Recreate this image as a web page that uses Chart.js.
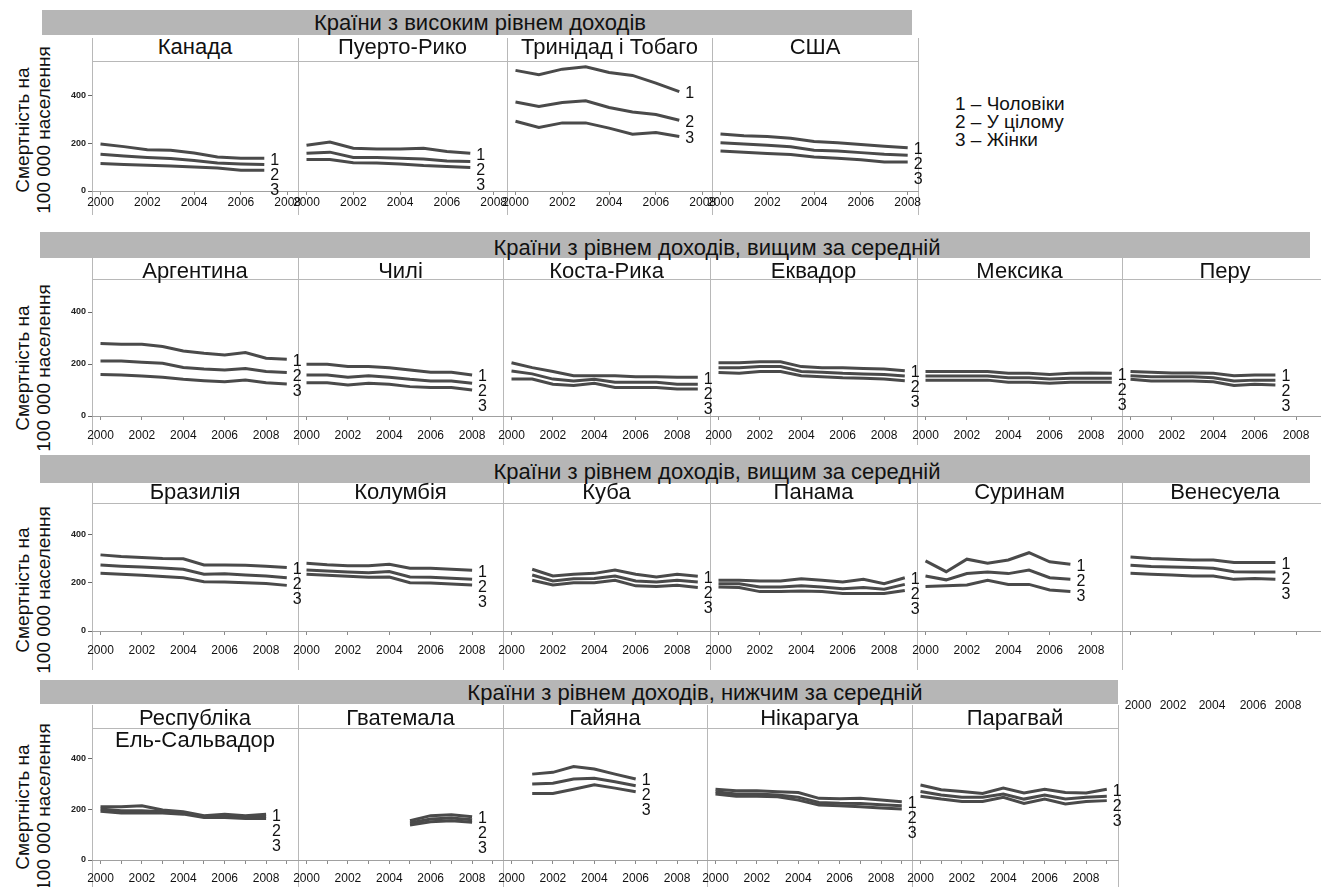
<!DOCTYPE html>
<html lang="uk">
<head>
<meta charset="utf-8">
<title>Смертність на 100 000 населення</title>
<script src="https://cdn.jsdelivr.net/npm/chart.js@4.4.1/dist/chart.umd.min.js"></script>
<style>
  html, body { margin: 0; padding: 0; background: #fff; }
  body {
    position: relative; width: 1321px; height: 887px; overflow: hidden;
    font-family: "Liberation Sans", Arial, sans-serif; color: #111;
  }
  .band { position: absolute; background: #b6b6b6; }
  .band-text { position: absolute; font-size: 22px; line-height: 22px; white-space: nowrap; transform: translateX(-50%); }
  .title { position: absolute; font-size: 22px; line-height: 22px; text-align: center; white-space: pre-line; }
  .vline { position: absolute; width: 1px; background: #b8b8b8; }
  .hline { position: absolute; height: 1px; background: #b8b8b8; }
  .ytitle {
    position: absolute; width: 190px; font-size: 19px; line-height: 21px; text-align: center;
    white-space: nowrap; transform: translate(-50%, -50%) rotate(-90deg);
  }
  .legend { position: absolute; font-size: 19px; line-height: 18px; white-space: nowrap; }
  .stray { position: absolute; font-size: 12px; line-height: 12px; transform: translateX(-50%); }
  canvas { position: absolute; }
</style>
</head>
<body>
<script>
// series: 1 - men, 2 - overall, 3 - women
const seriesMarks = ["1", "2", "3"];
const legendLines = ["1 – Чоловіки", "2 – У цілому", "3 – Жінки"];
const yTitleLines = ["Смертність на", "100 000 населення"];
const rowTitles = [
  "Країни з високим рівнем доходів",
  "Країни з рівнем доходів, вищим за середній",
  "Країни з рівнем доходів, вищим за середній",
  "Країни з рівнем доходів, нижчим за середній"
];
const yTicks = [0, 200, 400];
const xTicks = [2000, 2002, 2004, 2006, 2008];
const xTicksDense = [2000, 2001, 2002, 2003, 2004, 2005, 2006, 2007, 2008, 2009];
const strayYears = ["2000", "2002", "2004", "2006", "2008"];

// each country: [men, overall, women], yearly values from its first year
const canada = [
  [196, 185, 172, 170, 158, 142, 137, 137],
  [153, 146, 140, 135, 127, 117, 113, 110],
  [115, 111, 107, 104, 100, 96, 87, 86]
];
const puertoRico = [
  [191, 204, 178, 175, 175, 178, 165, 157],
  [157, 162, 140, 140, 137, 133, 125, 123],
  [131, 131, 118, 117, 113, 106, 102, 98]
];
const trinidad = [
  [503, 485, 508, 518, 494, 482, 450, 414],
  [371, 352, 369, 376, 348, 329, 319, 295],
  [291, 265, 284, 284, 262, 237, 244, 227]
];
const usa = [
  [238, 230, 227, 220, 206, 201, 194, 187, 180],
  [201, 196, 191, 184, 170, 167, 160, 153, 149],
  [167, 162, 156, 152, 142, 137, 130, 121, 121]
];
const argentina = [
  [279, 276, 276, 267, 250, 241, 235, 244, 222, 218],
  [212, 212, 207, 203, 187, 181, 177, 183, 171, 167],
  [160, 158, 154, 149, 141, 136, 132, 138, 128, 123]
];
const chile = [
  [199, 199, 190, 190, 186, 177, 168, 168, 158],
  [158, 158, 149, 155, 149, 141, 135, 135, 126],
  [128, 128, 119, 126, 122, 113, 110, 110, 100]
];
const costaRica = [
  [205, 186, 171, 155, 155, 155, 151, 151, 149, 149],
  [173, 162, 142, 135, 141, 130, 130, 130, 122, 122],
  [142, 142, 122, 117, 126, 110, 110, 110, 104, 104]
];
const ecuador = [
  [205, 205, 209, 209, 190, 186, 186, 183, 181, 174],
  [186, 186, 190, 190, 171, 168, 164, 162, 160, 154],
  [167, 164, 171, 171, 155, 151, 147, 145, 142, 136]
];
const mexico = [
  [171, 171, 171, 171, 164, 164, 160, 164, 165, 164],
  [154, 154, 154, 154, 147, 147, 142, 145, 145, 145],
  [138, 138, 138, 138, 130, 130, 126, 130, 130, 130]
];
const peru = [
  [171, 168, 165, 165, 164, 155, 158, 158],
  [155, 151, 151, 151, 147, 135, 138, 138],
  [141, 135, 135, 135, 132, 117, 122, 119]
];
const brazil = [
  [317, 310, 306, 302, 301, 275, 275, 274, 270, 264],
  [275, 270, 266, 262, 257, 236, 238, 233, 229, 222],
  [240, 236, 232, 227, 222, 205, 204, 201, 198, 190]
];
const colombia = [
  [282, 276, 272, 272, 278, 261, 261, 257, 253],
  [254, 250, 246, 243, 248, 225, 224, 220, 215],
  [236, 232, 228, 224, 225, 201, 200, 196, 192]
];
const cuba = [
  [257, 229, 236, 240, 254, 236, 225, 236, 228],
  [233, 208, 218, 219, 229, 208, 204, 211, 204],
  [211, 192, 201, 201, 211, 188, 185, 190, 181]
];
const panama = [
  [211, 211, 208, 208, 218, 211, 204, 215, 197, 222],
  [197, 197, 183, 183, 188, 183, 176, 181, 174, 194],
  [183, 181, 164, 164, 167, 164, 156, 156, 156, 169]
];
const suriname = [
  [292, 247, 299, 282, 296, 326, 288, 278],
  [229, 213, 239, 246, 239, 254, 222, 215],
  [185, 188, 192, 211, 194, 194, 171, 164]
];
const venezuela = [
  [308, 302, 299, 296, 296, 285, 285, 285],
  [274, 269, 266, 264, 261, 247, 246, 246],
  [240, 236, 233, 229, 229, 215, 219, 215]
];
const salvador = [
  [209, 209, 213, 196, 189, 174, 180, 174, 180],
  [200, 193, 193, 189, 184, 171, 174, 167, 171],
  [191, 184, 184, 184, 180, 167, 167, 163, 163]
];
const guatemala = [
  [154, 174, 178, 170],
  [145, 161, 165, 158],
  [137, 150, 154, 148]
];
const guyana = [
  [337, 344, 367, 357, 337, 318],
  [298, 301, 318, 321, 307, 291],
  [261, 261, 278, 295, 282, 268]
];
const nicaragua = [
  [278, 272, 272, 268, 265, 242, 240, 242, 235, 229],
  [268, 259, 259, 255, 246, 226, 223, 222, 217, 213],
  [259, 250, 250, 248, 235, 216, 213, 209, 204, 200]
];
const paraguay = [
  [294, 276, 269, 261, 282, 263, 278, 265, 263, 278],
  [269, 255, 246, 246, 259, 239, 255, 239, 246, 250],
  [250, 239, 230, 230, 246, 222, 239, 220, 230, 233]
];

const rows = [
  [
    { name: "Канада", start: 2000, values: canada },
    { name: "Пуерто-Рико", start: 2000, values: puertoRico },
    { name: "Тринідад і Тобаго", start: 2000, values: trinidad },
    { name: "США", start: 2000, values: usa }
  ],
  [
    { name: "Аргентина", start: 2000, values: argentina },
    { name: "Чилі", start: 2000, values: chile },
    { name: "Коста-Рика", start: 2000, values: costaRica },
    { name: "Еквадор", start: 2000, values: ecuador },
    { name: "Мексика", start: 2000, values: mexico },
    { name: "Перу", start: 2000, values: peru }
  ],
  [
    { name: "Бразилія", start: 2000, values: brazil },
    { name: "Колумбія", start: 2000, values: colombia },
    { name: "Куба", start: 2001, values: cuba },
    { name: "Панама", start: 2000, values: panama },
    { name: "Суринам", start: 2000, values: suriname },
    { name: "Венесуела", start: 2000, values: venezuela, noLabels: true }
  ],
  [
    { name: "Республіка\nЕль-Сальвадор", start: 2000, values: salvador },
    { name: "Гватемала", start: 2005, values: guatemala },
    { name: "Гайяна", start: 2001, values: guyana },
    { name: "Нікарагуа", start: 2000, values: nicaragua },
    { name: "Парагвай", start: 2000, values: paraguay }
  ]
];

// page geometry of each row (pixels)
const layout = [
  { band: [42, 10, 870, 25], textX: 480, textY: 12, titleY: 36, top: 61, axis: 191, yMax: 542,
    lefts: [92, 298, 507, 712, 918], frame: [38, 215], lineRight: 918, ppy: 23.4, tickPad: 0, yTitleY: 130 },
  { band: [40, 232, 1270, 26], textX: 717, textY: 237, titleY: 260, top: 279, axis: 416, yMax: 527,
    lefts: [92, 298, 503, 710, 917, 1122, 1328], frame: [258, 445], lineRight: 1321, ppy: 20.7, tickPad: 8, yTitleY: 368 },
  { band: [40, 455, 1270, 28], textX: 717, textY: 461, titleY: 481, top: 503, axis: 631, yMax: 533,
    lefts: [92, 298, 503, 710, 917, 1122, 1328], frame: [483, 670], lineRight: 1321, ppy: 20.7, tickPad: 8, yTitleY: 590 },
  { band: [40, 680, 1078, 24], textX: 695, textY: 682, titleY: 707, top: 728, axis: 860, yMax: 518,
    lefts: [92, 298, 503, 707, 912, 1118], frame: [705, 887], lineRight: 1118, ppy: 20.7, tickPad: 7, yTitleY: 807, dense: true }
];

const FONT = '"Liberation Sans", Arial, sans-serif';
const Y_AXIS_W = 40;
const RIGHT_PAD = 20;
const X_AXIS_H = 25;

function addDiv(cls, text, css) {
  const d = document.createElement("div");
  d.className = cls;
  if (text) d.textContent = text;
  Object.assign(d.style, css);
  document.body.appendChild(d);
  return d;
}

// "1", "2", "3" next to the last point of each line
const endLabels = {
  id: "endLabels",
  afterDatasetsDraw(chart) {
    const ctx = chart.ctx;
    let prev = -Infinity;
    ctx.save();
    ctx.font = "16px " + FONT;
    ctx.fillStyle = "#111";
    ctx.textBaseline = "middle";
    chart.data.datasets.forEach((ds, i) => {
      const pts = chart.getDatasetMeta(i).data;
      const p = pts[pts.length - 1];
      const y = Math.max(p.y + 2, prev + 15);
      ctx.fillText(seriesMarks[i], p.x + 6, y);
      prev = y;
    });
    ctx.restore();
  }
};

function drawPanel(panel, row, idx) {
  const left = row.lefts[idx];
  const width = row.lefts[idx + 1] - left;
  const plotH = row.axis - row.top;
  const first = idx === 0;
  const xMin = 2000 - 8.5 / row.ppy;
  const xMax = xMin + width / row.ppy;
  const tickYears = row.dense ? xTicksDense : xTicks;

  const canvas = document.createElement("canvas");
  canvas.width = Y_AXIS_W + width + RIGHT_PAD;
  canvas.height = plotH + X_AXIS_H;
  canvas.style.left = (left - Y_AXIS_W) + "px";
  canvas.style.top = row.top + "px";
  document.body.appendChild(canvas);

  new Chart(canvas, {
    type: "line",
    data: {
      datasets: panel.values.map((vals, i) => ({
        label: seriesMarks[i],
        data: vals.map((v, k) => ({ x: panel.start + k, y: v })),
        borderColor: "#4a4a4a",
        borderWidth: 3,
        pointRadius: 0,
        tension: 0,
        fill: false,
      })),
    },
    options: {
      responsive: false,
      animation: false,
      events: [],
      layout: { padding: { left: 0, right: RIGHT_PAD, top: 0, bottom: 0 } },
      plugins: { legend: { display: false }, tooltip: { enabled: false } },
      scales: {
        x: {
          type: "linear",
          min: xMin,
          max: xMax,
          afterBuildTicks: (s) => { s.ticks = tickYears.map((v) => ({ value: v })); },
          afterFit: (s) => { s.height = X_AXIS_H; s.paddingLeft = 0; s.paddingRight = 0; },
          grid: { drawOnChartArea: false, tickLength: 4, color: "#8a8a8a" },
          border: { color: "#a0a0a0" },
          ticks: {
            display: !panel.noLabels,
            autoSkip: false,
            maxRotation: 0,
            padding: row.tickPad,
            color: "#111",
            font: { family: FONT, size: 12 },
            callback: (v) => (v % 2 === 0 ? String(v) : ""),
          },
        },
        y: {
          min: 0,
          max: row.yMax,
          afterBuildTicks: (s) => { s.ticks = yTicks.map((v) => ({ value: v })); },
          afterFit: (s) => { s.width = Y_AXIS_W; s.paddingTop = 0; s.paddingBottom = 0; },
          grid: { display: first, drawOnChartArea: false, tickLength: 4, color: "#666" },
          border: { display: false },
          ticks: {
            display: first,
            padding: 2,
            color: "#222",
            font: { family: FONT, size: 9, weight: "bold" },
          },
        },
      },
    },
    plugins: [endLabels],
  });

  addDiv("title", panel.name, {
    left: left + "px", top: row.titleY + "px", width: width + "px",
  });
}

layout.forEach((row, r) => {
  const [bx, by, bw, bh] = row.band;
  addDiv("band", "", { left: bx + "px", top: by + "px", width: bw + "px", height: bh + "px" });
  addDiv("band-text", rowTitles[r], { left: row.textX + "px", top: row.textY + "px" });

  // panel frames and the line under the titles
  row.lefts.forEach((x) => {
    if (x < 1321) {
      addDiv("vline", "", { left: x + "px", top: row.frame[0] + "px", height: (row.frame[1] - row.frame[0]) + "px" });
    }
  });
  addDiv("hline", "", { left: row.lefts[0] + "px", top: row.top + "px", width: (row.lineRight - row.lefts[0]) + "px" });

  const yt = addDiv("ytitle", "", { left: "33px", top: row.yTitleY + "px" });
  yt.innerHTML = yTitleLines.join("<br>");

  rows[r].forEach((panel, i) => drawPanel(panel, row, i));
});

// legend at the right of the first row
legendLines.forEach((t, i) => {
  addDiv("legend", t, { left: "955px", top: (95 + i * 18) + "px" });
});

// year labels printed apart from the Venezuela panel
const strayX = [1138, 1173, 1212, 1253, 1288];
strayYears.forEach((t, i) => {
  addDiv("stray", t, { left: strayX[i] + "px", top: "699px" });
});
</script>
</body>
</html>
